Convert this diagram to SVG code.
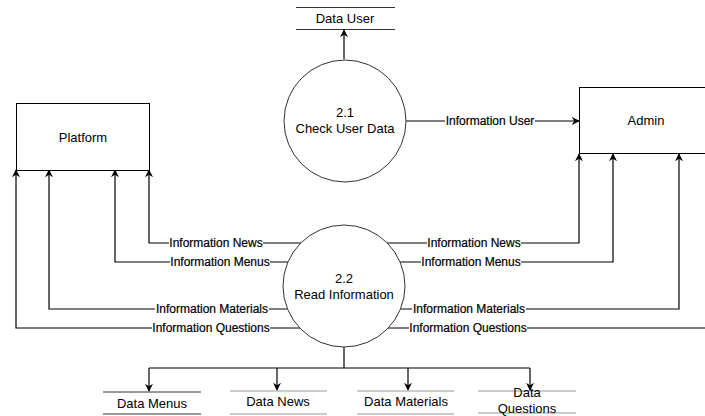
<svg xmlns="http://www.w3.org/2000/svg" width="705" height="416" viewBox="0 0 705 416">
<style>
text{font-family:"Liberation Sans",Arial,sans-serif;fill:#000;text-anchor:middle}
.n{font-size:13px}
.l{font-size:12px;stroke:#000;stroke-width:0.2}
.bg{fill:#fff}
.box{fill:#fff;stroke:#000;stroke-width:1}
.proc{fill:#fff;stroke:#333;stroke-width:1}
.c{fill:none;stroke:#000;stroke-width:1.2}
.st{stroke:#999;stroke-width:1.2}
.std{stroke:#333;stroke-width:1.2}
</style>
<defs>
<marker id="a" viewBox="0 0 10 10" refX="9" refY="5" markerWidth="8" markerHeight="8" markerUnits="userSpaceOnUse" orient="auto">
<path d="M0,0 L10,5 L0,10 L3,5 Z" fill="#000"/>
</marker>
</defs>
<rect width="705" height="416" fill="#fff"/>
<g id="connectors">
<path class="c" d="M344,59 V30" marker-end="url(#a)"/>
<path class="c" d="M406,121 H579" marker-end="url(#a)"/>
<path class="c" d="M301,243 H149 V170" marker-end="url(#a)"/>
<path class="c" d="M288,262 H115 V170" marker-end="url(#a)"/>
<path class="c" d="M287,309 H49 V170" marker-end="url(#a)"/>
<path class="c" d="M300,328 H16 V170" marker-end="url(#a)"/>
<path class="c" d="M387,243 H579 V154" marker-end="url(#a)"/>
<path class="c" d="M400,262 H613 V154" marker-end="url(#a)"/>
<path class="c" d="M401,309 H679 V154" marker-end="url(#a)"/>
<path class="c" d="M388,328 H706"/>
<path class="c" d="M344,347 V368 M149,368 H530"/>
<path class="c" d="M149,368 V391" marker-end="url(#a)"/>
<path class="c" d="M277,368 V390" marker-end="url(#a)"/>
<path class="c" d="M408,368 V390" marker-end="url(#a)"/>
<path class="c" d="M530,368 V390" marker-end="url(#a)"/>
<rect class="bg" x="445" y="115" width="90" height="12"/>
<rect class="bg" x="169" y="237" width="94" height="12"/>
<rect class="bg" x="170" y="256" width="100" height="12"/>
<rect class="bg" x="155" y="303" width="114" height="12"/>
<rect class="bg" x="152" y="322" width="118" height="12"/>
<rect class="bg" x="427" y="237" width="94" height="12"/>
<rect class="bg" x="421" y="256" width="100" height="12"/>
<rect class="bg" x="412" y="303" width="114" height="12"/>
<rect class="bg" x="409" y="322" width="118" height="12"/>
<text class="l" x="490" y="125">Information User</text>
<text class="l" x="216" y="247">Information News</text>
<text class="l" x="220" y="266">Information Menus</text>
<text class="l" x="212" y="313">Information Materials</text>
<text class="l" x="211" y="332">Information Questions</text>
<text class="l" x="474" y="247">Information News</text>
<text class="l" x="471" y="266">Information Menus</text>
<text class="l" x="469" y="313">Information Materials</text>
<text class="l" x="468" y="332">Information Questions</text>
</g>
<g id="data-user">
<line class="std" x1="296" y1="7.5" x2="395" y2="7.5"/>
<line class="std" x1="296" y1="29.5" x2="395" y2="29.5"/>
<text class="n" x="345" y="23">Data User</text>
</g>
<g id="p21">
<circle class="proc" cx="345" cy="121" r="61"/>
<text class="n" x="345" y="117">2.1</text>
<text class="n" x="345" y="133">Check User Data</text>
</g>
<g id="platform">
<rect class="box" x="16.5" y="103.5" width="133" height="67"/>
<text class="n" x="83" y="142">Platform</text>
</g>
<g id="admin">
<rect class="box" x="579.5" y="87.5" width="140" height="66"/>
<text class="n" x="646" y="125">Admin</text>
</g>
<g id="p22">
<circle class="proc" cx="344" cy="286" r="61"/>
<text class="n" x="344" y="283">2.2</text>
<text class="n" x="344" y="299">Read Information</text>
</g>
<g id="data-menus">
<line class="std" x1="103" y1="392" x2="201" y2="392"/>
<line class="std" x1="103" y1="414" x2="201" y2="414"/>
<text class="n" x="152" y="408">Data Menus</text>
</g>
<g id="data-news">
<line class="st" x1="230" y1="391" x2="327" y2="391"/>
<line class="st" x1="230" y1="414" x2="327" y2="414"/>
<text class="n" x="278" y="406">Data News</text>
</g>
<g id="data-materials">
<line class="st" x1="357" y1="391" x2="454" y2="391"/>
<line class="st" x1="357" y1="414" x2="454" y2="414"/>
<text class="n" x="406" y="406">Data Materials</text>
</g>
<g id="data-questions">
<line class="st" x1="478" y1="391" x2="576" y2="391"/>
<line class="st" x1="478" y1="413" x2="576" y2="413"/>
<text class="n" x="527" y="397">Data</text>
<text class="n" x="527" y="413">Questions</text>
</g>
</svg>
